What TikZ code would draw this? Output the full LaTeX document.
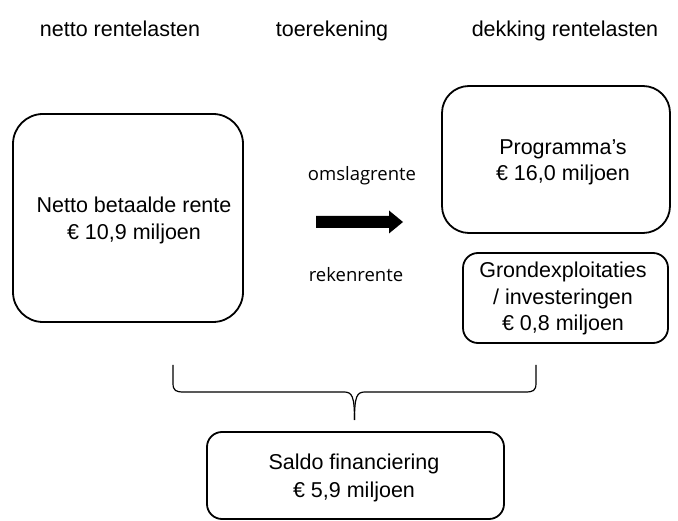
\documentclass[tikz,border=0pt]{standalone}
\usepackage{fontspec}
\setmainfont{Liberation Sans}
\newfontfamily\humfont{Open Sans}
\begin{document}
\begin{tikzpicture}[x=1pt,y=-1pt,
  box/.style={draw=black,line width=1.8pt,inner sep=0pt},
  txt/.style={anchor=base,inner sep=0pt,font=\fontsize{21.5}{26}\selectfont},
  hum/.style={anchor=base,inner sep=0pt,font=\humfont\fontsize{18.5}{22}\selectfont},
  brace/.style={draw=black,line width=1.2pt}]
\useasboundingbox (0,0) rectangle (678,521);
% headers
\node[txt] (h1) at (120,37) {netto rentelasten};
\node[txt] (h2) at (332,37) {toerekening};
\node[txt] (h3) at (565,37) {dekking rentelasten};
% boxes
\node[box,rounded corners=30pt,minimum width=230pt,minimum height=208pt] (netto) at (128,218) {};
\node[box,rounded corners=27pt,minimum width=228pt,minimum height=147pt] (prog) at (556,159.5) {};
\node[box,rounded corners=15pt,minimum width=205pt,minimum height=90pt] (grond) at (565.5,298) {};
\node[box,rounded corners=15pt,minimum width=297pt,minimum height=87pt] (saldo) at (355.5,475.5) {};
% box texts
\node[txt] (n1) at (134,213) {Netto betaalde rente};
\node[txt] (n2) at (134,240) {€ 10,9 miljoen};
\node[txt] (p1) at (563,155) {Programma’s};
\node[txt] (p2) at (563,181) {€ 16,0 miljoen};
\node[txt] (g1) at (563,278) {Grondexploitaties};
\node[txt] (g2) at (563,305) {/ investeringen};
\node[txt] (g3) at (563,331) {€ 0,8 miljoen};
\node[txt] (s1) at (354,470) {Saldo financiering};
\node[txt] (s2) at (354,497) {€ 5,9 miljoen};
% middle labels
\node[hum] (oms) at (362,181) {omslagrente};
\node[hum] (rek) at (356,282) {rekenrente};
% arrow
\fill[black] (316,216) -- (389,216) -- (389,210.5) -- (403,222) -- (389,233.5) -- (389,228) -- (316,228) -- cycle;
% brace
\coordinate (bl) at (173,365);
\coordinate (br) at (536,365);
\coordinate (bt) at (354.5,420);
\draw[brace] (bl) -- (173,383) .. controls (173,391) and (176,392) .. (184,392)
  -- (344,392) .. controls (352,392) and (354.5,396) .. (bt);
\draw[brace] (br) -- (536,383) .. controls (536,391) and (533,392) .. (525,392)
  -- (365,392) .. controls (357,392) and (354.5,396) .. (bt);
\end{tikzpicture}
\end{document}
